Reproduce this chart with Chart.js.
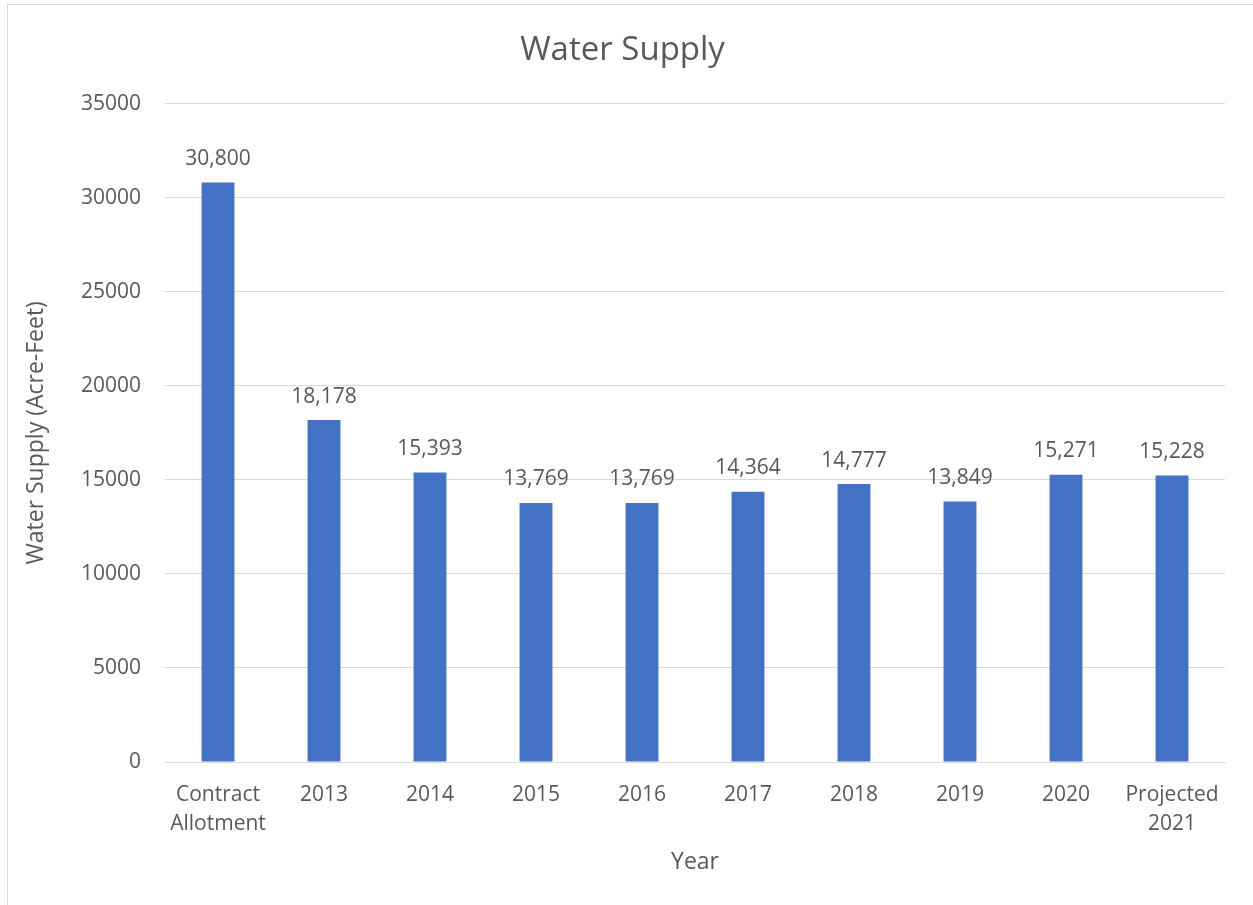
<!DOCTYPE html>
<html>
<head>
<meta charset="utf-8">
<script src="https://cdn.jsdelivr.net/npm/chart.js@4"></script>
<style>
  html, body { margin: 0; padding: 0; background: #fff; }
  #wrap { position: relative; width: 1253px; height: 905px; overflow: hidden; }
  #frame { position: absolute; left: 7px; top: 4px; width: 1260px; height: 920px; border: 1px solid #d9d9d9; box-sizing: border-box; }
  canvas { position: absolute; left: 0; top: 0; }
</style>
</head>
<body>
<div id="wrap">
  <div id="frame"></div>
  <canvas id="chart" width="1253" height="905"></canvas>
</div>
<script>
// ---- Data ----
const categories = [['Contract', 'Allotment'], '2013', '2014', '2015', '2016', '2017', '2018', '2019', '2020', ['Projected', '2021']]
const supply     = [30800, 18178, 15393, 13769, 13769, 14364, 14777, 13849, 15271, 15228]
const yTicks     = [0, 5000, 10000, 15000, 20000, 25000, 30000, 35000]

const textColor = '#595959'
const fontFamily = '"Open Sans", "Liberation Sans", sans-serif'

// ---- Value labels above bars ----
const valueLabels = {
  id: 'valueLabels',
  afterDatasetsDraw(chart) {
    const { ctx } = chart
    const meta = chart.getDatasetMeta(0)
    ctx.save()
    ctx.fillStyle = textColor
    ctx.font = `21px ${fontFamily}`
    ctx.textAlign = 'center'
    ctx.textBaseline = 'bottom'
    meta.data.forEach((bar, i) => {
      ctx.fillText(supply[i].toLocaleString('en-US'), bar.x, bar.y - 13)
    })
    ctx.restore()
  }
}

new Chart(document.getElementById('chart'), {
  type: 'bar',
  data: {
    labels: categories,
    datasets: [{ data: supply, backgroundColor: '#4472C4', barPercentage: 0.31, categoryPercentage: 1 }]
  },
  options: {
    responsive: false,
    animation: false,
    layout: { padding: { left: 20, right: 28, top: 0, bottom: 0 } },
    plugins: {
      legend: { display: false },
      tooltip: { enabled: false },
      title: {
        display: true,
        text: 'Water Supply',
        color: textColor,
        font: { family: fontFamily, size: 33, weight: 'normal' },
        padding: { top: 31, bottom: 33 }
      }
    },
    scales: {
      x: {
        afterFit: s => { s.height = 143 },
        grid: { display: false, drawTicks: false },
        border: { color: '#d9d9d9', width: 1 },
        ticks: {
          color: textColor, padding: 18, maxRotation: 0, autoSkip: false,
          font: { family: fontFamily, size: 21, lineHeight: 1.4 }
        },
        title: {
          display: true, text: 'Year', color: textColor,
          font: { family: fontFamily, size: 23 }, padding: { top: 0, bottom: 29 }
        }
      },
      y: {
        min: 0,
        max: 35000,
        afterBuildTicks: s => { s.ticks = yTicks.map(v => ({ value: v })) },
        afterFit: s => { s.width = 145 },
        grid: { color: '#d9d9d9', drawTicks: false },
        border: { display: false },
        ticks: {
          color: textColor, padding: 24,
          font: { family: fontFamily, size: 21 },
          callback: v => String(v)
        },
        title: {
          display: true, text: 'Water Supply (Acre-Feet)', color: textColor,
          font: { family: fontFamily, size: 23 }, padding: { top: 3, bottom: 4 }
        }
      }
    }
  },
  plugins: [valueLabels]
})
</script>
</body>
</html>
